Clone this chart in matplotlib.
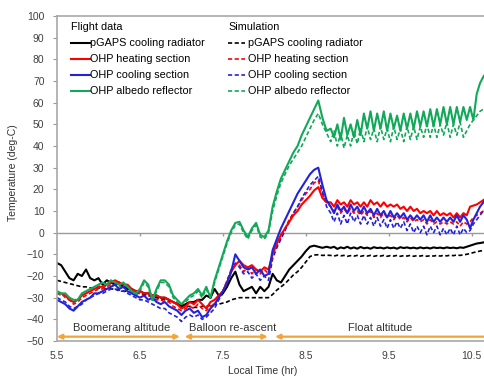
import numpy as np
import matplotlib
matplotlib.use("Agg")
import matplotlib.pyplot as plt

plt.rcParams['font.family'] = ['Liberation Sans', 'DejaVu Sans']

# time grids (hr): 0.05 h sampling up to 8.75, 0.04 h sampling in float
t_early = np.round(np.arange(5.50, 8.751, 0.05), 2)
t_float = np.round(np.arange(8.80, 10.681, 0.04), 2)
t_all = np.concatenate([t_early, t_float])

# ---- flight data ----
pgaps_flt = [-14, -15, -18, -21, -22, -19, -20, -17, -21, -22,
             -21, -24, -22, -23, -24, -23, -25, -26, -26, -27,
             -27, -28, -28, -29, -29, -30, -30, -31, -32, -33,
             -34, -33, -32, -32, -31, -31, -29, -30, -26, -29,
             -28, -25, -21, -18, -24, -27, -26, -25, -28, -25,
             -27, -25, -19, -22, -23, -20, -17, -15, -13, -11,
             -8.5, -6.5, -6, -6.5, -7, -6.5,
             -7, -6.5, -7.5, -6.8, -7.2, -6.5, -7.3, -6.8, -7.4, -6.6, -7.2, -6.9,
             -7.4, -6.7, -7.1, -6.9, -7.3, -6.8, -7.2, -6.9, -7.4, -6.7, -7.1, -6.8,
             -7.2, -6.9, -7.3, -6.8, -7.2, -6.9, -7.3, -6.8, -7.1, -6.9, -7.2, -6.8,
             -7.1, -6.9, -7.2, -6.8, -7, -6.5, -6, -5.5, -5, -4.8, -4.5, -4.3]

heat_flt = [-28, -28, -29, -31, -32, -31, -29, -28, -27, -26,
            -25, -25, -24, -23, -22, -23, -24, -24, -26, -27,
            -27, -28, -28, -29, -29, -30, -30, -31, -32, -33,
            -35, -34, -32, -33, -31, -33, -35, -32, -31, -29,
            -27, -23, -18, -15, -13, -15, -16, -15, -17, -18,
            -16, -17, -10, -5, -1, 2, 5, 8, 10, 13,
            15, 17, 19.5, 21, 16, 14,
            14, 12, 15, 13, 14, 12, 15, 13, 14, 12, 14, 12,
            15, 13, 14, 12, 14, 12, 13, 12, 13, 11, 12, 10,
            12, 10, 11, 9, 10, 9, 10, 8, 10, 8, 9, 8,
            9, 7, 9, 7, 9, 8, 12, 12.5, 13, 14, 15, 16]

cool_flt = [-31, -32, -33, -35, -36, -34, -32, -31, -30, -28,
            -28, -27, -26, -25, -24, -26, -25, -27, -28, -29,
            -30, -29, -31, -30, -32, -33, -32, -34, -35, -36,
            -38, -36, -35, -37, -36, -39, -38, -35, -33, -30,
            -27, -23, -18, -10, -13, -16, -17, -16, -19, -17,
            -20, -19, -8, -3, 2, 6, 10, 14, 18, 21,
            24, 27, 29, 30, 22, 15,
            12, 9, 13, 10, 12, 9, 13, 10, 12, 9, 12, 9,
            11, 8, 11, 8, 10, 7, 10, 7, 9, 7, 9, 6,
            8, 6, 8, 6, 8, 5, 8, 5, 7, 5, 7, 5,
            7, 5, 8, 5, 8, 6, 2, 6, 9, 12, 14, 16]

albedo_flt = [-27, -28, -28, -30, -31, -31, -28, -27, -26, -25,
              -24, -23, -24, -22, -23, -24, -23, -25, -27, -28,
              -26, -22, -24, -31, -26, -22, -22, -24, -29, -31,
              -33, -31, -29, -28, -26, -29, -25, -30, -22, -16,
              -10, -4, 1, 4.5, 5, 1, -2, 2, 4.5, -1,
              -2, 1, 12, 19, 25, 29, 33, 37, 40, 45,
              49, 53, 57, 61, 53, 47,
              48, 44, 50, 43, 53, 45, 50, 44, 52, 45, 55, 48,
              56, 47, 55, 48, 56, 47, 55, 48, 54, 47, 55, 48,
              55, 48, 56, 49, 56, 49, 57, 49, 57, 50, 58, 50,
              58, 50, 58, 51, 58, 52, 58, 52, 64, 69, 72, 74]

# ---- simulation ----
pgaps_sim = [-22, -22.5, -23, -23.5, -24, -24.5, -25, -25, -25.5, -25.5,
             -25.5, -25.5, -26, -26, -26, -26.5, -27, -27, -27.5, -28,
             -28, -28.5, -29, -29.5, -30, -30.5, -31, -31.5, -32, -33,
             -33.5, -34, -34, -34.5, -34.5, -34, -34, -33.5, -33, -33,
             -32.5, -32, -31, -30.5, -30, -30, -30, -30, -30, -30,
             -30, -30, -28.5, -26.5, -25, -23.5, -21.5, -19.5, -18, -16,
             -13.5, -11, -10.3, -10.2, -10.5, -10.4,
             -10.5, -10.8, -10.4, -10.7, -10.5, -10.9, -10.6, -10.8, -10.5, -10.9, -10.6, -10.8,
             -10.5, -10.9, -10.6, -10.8, -10.5, -10.9, -10.6, -10.8, -10.5, -10.9, -10.6, -10.8,
             -10.5, -10.9, -10.6, -10.8, -10.5, -10.9, -10.6, -10.8, -10.5, -10.8, -10.5, -10.7,
             -10.4, -10.6, -10.3, -10.5, -10.2, -10, -9.6, -9.2, -8.8, -8.5, -8.2, -8]

heat_sim = [-27, -28, -30, -31, -33, -32, -30, -29, -28, -27,
            -26, -26, -25, -24, -23, -24, -25, -25, -27, -28,
            -28, -29, -29, -30, -31, -31, -32, -32, -34, -35,
            -36, -35, -34, -35, -33, -35, -36, -34, -33, -30,
            -27, -22, -17, -15, -15, -18, -16, -19, -17, -19,
            -17, -19, -10, -6, -2, 2, 6, 9, 12, 15,
            18, 20, 23, 24, 18, 14,
            12, 10, 12, 9, 11, 9, 11, 9, 10, 8, 10, 8,
            10, 7, 9, 7, 9, 7, 8, 6, 8, 6, 7, 5,
            7, 5, 6, 5, 6, 4, 6, 4, 5, 4, 5, 4,
            5, 4, 5, 3, 5, 4, 5, 7, 8, 9, 10, 11]

cool_sim = [-30, -31, -32, -34, -35, -34, -33, -31, -30, -29,
            -28, -28, -27, -26, -26, -27, -27, -28, -29, -30,
            -31, -31, -32, -33, -34, -35, -35, -37, -38, -39,
            -41, -39, -38, -39, -38, -40, -39, -37, -35, -31,
            -28, -24, -18, -14, -16, -19, -18, -21, -19, -22,
            -20, -22, -12, -7, -3, 1, 5, 9, 12, 16,
            19, 22, 24, 26, 19, 12,
            9, 5, 9, 4, 8, 4, 9, 5, 8, 4, 8, 4,
            7, 3, 7, 3, 6, 2, 6, 2, 5, 2, 5, 1,
            4, 0, 3, 0, 3, -1, 3, 0, 3, -1, 2, -1,
            2, -1, 3, -1, 2, 0, 1, 4, 6, 8, 10, 12]

albedo_sim = [-28, -29, -29, -31, -32, -31, -29, -28, -27, -26,
              -25, -24, -25, -23, -24, -25, -24, -26, -28, -29,
              -27, -23, -25, -32, -27, -23, -23, -25, -30, -32,
              -34, -32, -30, -29, -27, -30, -26, -31, -23, -17,
              -11, -5, 0, 3.5, 4, 0, -3, 1, 3.5, -2,
              -3, 0, 10, 17, 23, 27, 31, 34, 37, 40,
              44, 48, 52, 55, 50, 46,
              42, 47, 40, 46, 39, 45, 40, 47, 41, 48, 42, 49,
              43, 48, 42, 49, 43, 48, 42, 49, 43, 48, 42, 49,
              43, 49, 43, 49, 44, 50, 44, 50, 44, 50, 45, 51,
              44, 50, 45, 51, 44, 47, 50, 52, 54, 56, 57, 58]

labels = ['pGAPS cooling radiator', 'OHP heating section',
          'OHP cooling section', 'OHP albedo reflector']
colors = ['#000000', '#FF0000', '#2222DD', '#12A85A']
flight = [pgaps_flt, heat_flt, cool_flt, albedo_flt]
sim = [pgaps_sim, heat_sim, cool_sim, albedo_sim]

phases = ['Boomerang altitude', 'Balloon re-ascent', 'Float altitude']
phase_start = [5.5, 7.04, 8.13]
phase_end = [6.98, 8.04, 10.9]
phase_label_x = [6.28, 7.62, 9.39]

fig = plt.figure(figsize=(4.85, 3.76), dpi=100)
ax = fig.add_axes([57 / 485, 35 / 376, 1 - 57 / 485, 325 / 376])

sim_lines = []
for y, c in zip(sim, colors):
    ln, = ax.plot(t_all, y, color=c, lw=1.2, ls=(0, (2.5, 1.5)))
    sim_lines.append(ln)
flt_lines = []
for y, c in zip(flight, colors):
    ln, = ax.plot(t_all, y, color=c, lw=1.5)
    flt_lines.append(ln)

ax.set_xlim(5.5, 10.66)
ax.set_ylim(-50, 100)
ax.set_yticks(np.arange(-50, 101, 10))
ax.set_xticks([5.5, 6.5, 7.5, 8.5, 9.5, 10.5])
ax.set_xticklabels(['5.5', '6.5', '7.5', '8.5', '9.5', '10.5'])
ax.tick_params(axis='y', length=3, color='#999999', labelsize=7.5,
               labelcolor='#404040', pad=6)
ax.tick_params(axis='x', length=0, labelsize=7.5, labelcolor='#404040', pad=7)
for s in ['left', 'top', 'bottom']:
    ax.spines[s].set_color('#a8a8a8')
    ax.spines[s].set_linewidth(1.2)
ax.spines['right'].set_visible(False)

# horizontal axis line at 0 with its tick marks
ax.axhline(0, color='#9a9a9a', lw=1, zorder=0.5)
ax.vlines([6.5, 7.5, 8.5, 9.5, 10.5], -1.6, 0, color='#9a9a9a', lw=1, zorder=0.5)

# phase arrows
for name, a, b, xm in zip(phases, phase_start, phase_end, phase_label_x):
    ax.annotate('', xy=(b, -48), xytext=(a, -48),
                arrowprops=dict(arrowstyle='<|-|>', color='#F2A33A', lw=1.6,
                                mutation_scale=7, shrinkA=0, shrinkB=0),
                annotation_clip=False)
    ax.text(xm, -44, name, ha='center', va='center', fontsize=8, color='#333333')

leg1 = ax.legend(flt_lines, labels, title='Flight data', loc='upper left',
                 bbox_to_anchor=(0.018, 1.0), frameon=False, fontsize=7.8,
                 title_fontsize=7.8, handlelength=1.7, handletextpad=0.05,
                 labelspacing=0.55, alignment='left', borderaxespad=0.2)
ax.add_artist(leg1)
ax.legend(sim_lines, labels, title='Simulation', loc='upper left',
          bbox_to_anchor=(0.385, 1.0), frameon=False, fontsize=7.8,
          title_fontsize=7.8, handlelength=1.5, handletextpad=0.3,
          labelspacing=0.55, alignment='left', borderaxespad=0.2)

fig.text(263 / 485, 0, 'Local Time (hr)', ha='center', va='bottom',
         fontsize=7.5, color='#333333')
fig.text(13 / 485, 0.54, 'Temperature (deg-C)', rotation=90, ha='center',
         va='center', fontsize=7.5, color='#333333')

fig.savefig('out.png', dpi=100)
